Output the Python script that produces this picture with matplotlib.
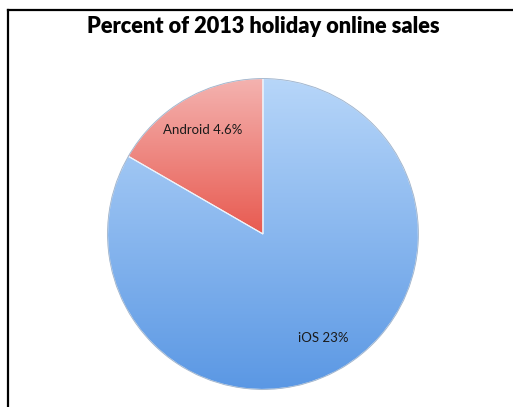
import numpy as np
import matplotlib.pyplot as plt
from matplotlib.colors import LinearSegmentedColormap
from matplotlib.lines import Line2D

labels = ["Android", "iOS"]
values = [4.6, 23]
value_text = ["4.6%", "23%"]
top_colors = ["#f4b3b0", "#b7d6f9"]
bottom_colors = ["#e85a50", "#5b98e4"]


def main():
    fig = plt.figure(figsize=(5.13, 4.07), dpi=100)
    fig.patch.set_facecolor("white")

    # pie area, placed to match the reference (center ~263,234, radius ~157 px)
    ax = fig.add_axes([0.2066, 0.0393, 0.612, 0.7715])
    wedges, texts = ax.pie(
        values,
        labels=[f"{l} {v}" for l, v in zip(labels, value_text)],
        startangle=90,
        counterclock=True,
        radius=1,
        labeldistance=0.77,
        wedgeprops=dict(edgecolor="#eef4fb", linewidth=0.8),
        textprops=dict(fontsize=9.5, family=["Lato", "DejaVu Sans"], color="#1a1a1a"),
    )

    # vertical gradient fill clipped to each wedge, spanning the wedge's own height
    grad = np.linspace(0, 1, 256).reshape(-1, 1)
    for w, c_top, c_bot in zip(wedges, top_colors, bottom_colors):
        cmap = LinearSegmentedColormap.from_list("g", [c_top, c_bot])
        w.set_facecolor("none")
        bb = w.get_path().get_extents(w.get_patch_transform())
        im = ax.imshow(grad, cmap=cmap, extent=[-1, 1, bb.y0, bb.y1], aspect="auto",
                       zorder=w.get_zorder() - 0.1, origin="upper")
        im.set_clip_path(w)

    # faint outer rim shadow
    rim = plt.Circle((0, 0), 1, fill=False, edgecolor="#6a87aa", linewidth=0.6, alpha=0.6)
    ax.add_patch(rim)

    for t in texts:
        t.set_horizontalalignment("center")
        t.set_verticalalignment("center")
        t.set_zorder(5)

    ax.set_xlim(-1.01, 1.01)
    ax.set_ylim(-1.01, 1.01)
    ax.set_aspect("equal")
    ax.axis("off")

    fig.text(0.513, 0.934, "Percent of 2013 holiday online sales", ha="center", va="center",
             fontsize=15.7, fontweight="heavy", family=["Lato", "DejaVu Sans"])

    # frame lines at top and left
    fig.add_artist(Line2D([8 / 513, 8 / 513], [0, 397 / 407], color="black", linewidth=1.6))
    fig.add_artist(Line2D([8 / 513, 1], [397 / 407, 397 / 407], color="black", linewidth=1.6))

    fig.savefig("out.png", dpi=100)


if __name__ == "__main__":
    main()
